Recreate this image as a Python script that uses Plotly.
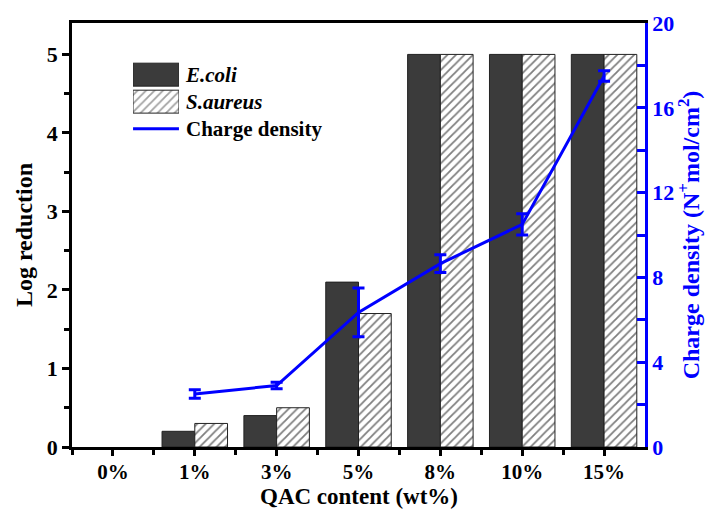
import plotly.graph_objects as go

# QAC loading levels and measured responses
categories = ["0%", "1%", "3%", "5%", "8%", "10%", "15%"]
ecoli_log_reduction = [0, 0.2, 0.4, 2.1, 5, 5, 5]
saureus_log_reduction = [0, 0.3, 0.5, 1.7, 5, 5, 5]
charge_categories = ["1%", "3%", "5%", "8%", "10%", "15%"]
charge_density = [2.5, 2.9, 6.35, 8.65, 10.5, 17.5]
charge_density_err = [0.2, 0.15, 1.15, 0.42, 0.5, 0.25]

# key entries (drawn as swatches on a small inset axis)
key_labels = ["<b><i>E.coli</i></b>", "<b><i>S.aureus</i></b>", "<b>Charge density</b>"]
key_rows = [0, 1, 2]
swatch_len = [1, 1]

pos = {c: i for i, c in enumerate(categories)}
x_bars = [pos[c] for c in categories]
x_line = [pos[c] for c in charge_categories]

FONT = "Liberation Serif"
BLUE = "#0000ff"
DARK = "#3b3b3b"
EDGE = "#222222"
HATCH = dict(shape="/", fgcolor="#000000", size=6, solidity=0.3)


def edge_widths(vals):
    # no outline on empty bars
    return [0 if v == 0 else 1 for v in vals]


fig = go.Figure()

fig.add_trace(go.Bar(
    x=x_bars, y=ecoli_log_reduction, name="E.coli",
    marker=dict(color=DARK, line=dict(color=EDGE, width=edge_widths(ecoli_log_reduction))),
))
fig.add_trace(go.Bar(
    x=x_bars, y=saureus_log_reduction, name="S.aureus",
    marker=dict(color="white", line=dict(color=EDGE, width=edge_widths(saureus_log_reduction)),
                pattern=HATCH),
))
fig.add_trace(go.Scatter(
    x=x_line, y=charge_density, name="Charge density", yaxis="y2",
    mode="lines", line=dict(color=BLUE, width=3),
    error_y=dict(type="data", array=charge_density_err, color=BLUE,
                 thickness=3, width=6),
))

# key swatches
fig.add_trace(go.Bar(
    x=swatch_len, y=key_rows[:2], orientation="h", width=0.85,
    xaxis="x3", yaxis="y3", hoverinfo="skip",
    marker=dict(color=[DARK, "white"], line=dict(color=EDGE, width=1),
                pattern=dict(shape=["", "/"], fgcolor="#000000", size=6, solidity=0.3)),
))
fig.add_trace(go.Scatter(
    x=[0, 1], y=[key_rows[2], key_rows[2]], mode="lines",
    xaxis="x3", yaxis="y3", hoverinfo="skip",
    line=dict(color=BLUE, width=3),
))

tick_font = dict(family=FONT, size=22, color="black", weight="bold")
xtick_font = dict(family=FONT, size=21, color="black", weight="bold")
title_font = dict(family=FONT, size=24, color="black")

fig.update_layout(
    width=719, height=509,
    margin=dict(l=72, r=74, t=23, b=62),
    paper_bgcolor="white", plot_bgcolor="white",
    barmode="group", bargap=0.2, bargroupgap=0,
    font=dict(family=FONT, size=22, color="black"),
    showlegend=False,
    xaxis=dict(
        range=[-0.5, 6.5], tickvals=x_bars, ticktext=categories,
        showline=True, linecolor="black", linewidth=2.5, mirror=True,
        ticks="outside", ticklen=6, tickwidth=2.5, tickcolor="black",
        minor=dict(tickvals=[-0.5, 0.5, 1.5, 2.5, 3.5, 4.5, 5.5],
                   ticks="outside", ticklen=5, tickwidth=2.5, tickcolor="black"),
        showgrid=False, zeroline=False, tickfont=xtick_font, automargin=False,
        ticklabelstandoff=-2,
    ),
    yaxis=dict(
        range=[0, 5.4], dtick=1, showline=True, linecolor="black", linewidth=2.5,
        ticks="outside", ticklen=7, tickwidth=2.5, tickcolor="black",
        minor=dict(dtick=0.5, ticks="outside", ticklen=5, tickwidth=2.5,
                   tickcolor="black"),
        showgrid=False, zeroline=False, tickfont=tick_font, automargin=False,
        title=dict(text="<b>Log reduction</b>", standoff=8, font=title_font),
    ),
    yaxis2=dict(
        overlaying="y", side="right", range=[0, 20], dtick=4,
        showline=True, linecolor=BLUE, linewidth=2.5,
        ticks="inside", ticklen=8, tickwidth=2.5, tickcolor=BLUE,
        minor=dict(dtick=2, ticks="inside", ticklen=8, tickwidth=2.5,
                   tickcolor=BLUE),
        showgrid=False, zeroline=False, automargin=False,
        tickfont=dict(family=FONT, size=22, color=BLUE, weight="bold"),
        title=dict(text="<b>Charge density (N<sup>+</sup>mol/cm<sup>2</sup>)</b>",
                   standoff=4, font=dict(family=FONT, size=24, color=BLUE)),
    ),
    xaxis3=dict(domain=[0.1065, 0.1867], anchor="y3", range=[0, 1],
                visible=False, fixedrange=True),
    yaxis3=dict(domain=[0.719, 0.910], anchor="x3", side="right",
                range=[2.5, -0.5], tickvals=key_rows, ticktext=key_labels,
                showline=False, showgrid=False, zeroline=False, ticks="",
                ticklabelstandoff=6, fixedrange=True, automargin=False,
                tickfont=dict(family=FONT, size=21, color="black")),
)

# x-axis title set just under the tick labels
fig.add_annotation(
    text="<b>QAC content (wt%)</b>", xref="paper", yref="paper",
    x=0.5, y=0, xanchor="center", yanchor="bottom", yshift=-64,
    showarrow=False, font=dict(family=FONT, size=23, color="black"),
)

fig.write_html("out.html")
